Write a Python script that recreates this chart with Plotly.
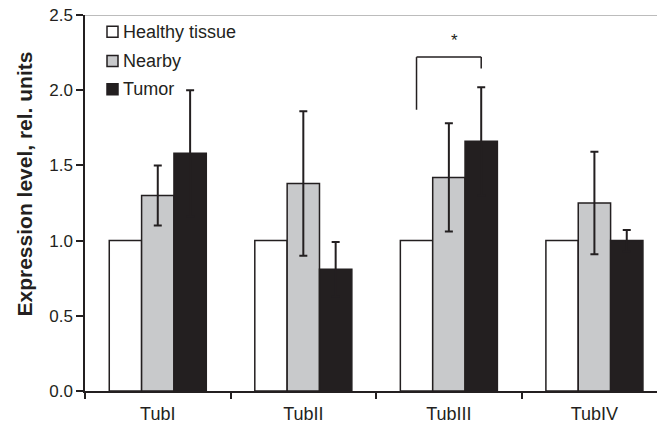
import plotly.graph_objects as go

categories = ["TubI", "TubII", "TubIII", "TubIV"]
healthy = [1.0, 1.0, 1.0, 1.0]
nearby = [1.30, 1.38, 1.42, 1.25]
nearby_err = [0.20, 0.48, 0.36, 0.34]
tumor = [1.58, 0.81, 1.66, 1.0]
tumor_err = [0.42, 0.18, 0.36, 0.07]
series_names = ["Healthy tissue", "Nearby", "Tumor"]
series_colors = ["white", "#c8c9cb", "#231f20"]

INK = "#231f20"
FONT = "Liberation Sans, Arial, sans-serif"

W, H = 657, 428
ML, MR, MT, MB = 85, 0, 15, 37
PW, PH = W - ML - MR, H - MT - MB


def px_x(p):
    return (p - ML) / PW


def px_y(p):
    return (H - MB - p) / PH


fig = go.Figure()
fig.add_trace(go.Bar(name=series_names[0], x=categories, y=healthy,
                     marker=dict(color=series_colors[0], line=dict(color=INK, width=1.5))))
fig.add_trace(go.Bar(name=series_names[1], x=categories, y=nearby,
                     marker=dict(color=series_colors[1], line=dict(color=INK, width=1.5)),
                     error_y=dict(type="data", array=nearby_err, color=INK, thickness=2, width=4)))
fig.add_trace(go.Bar(name=series_names[2], x=categories, y=tumor,
                     marker=dict(color=series_colors[2], line=dict(color=INK, width=1.5)),
                     error_y=dict(type="data", array=tumor_err, color=INK, thickness=2, width=4)))

# significance bracket between Healthy and Tumor for TubIII
bw = (1 - 1/3) / 3
cx = categories.index("TubIII")
xl, xr = cx - bw, cx + bw
line_style = dict(color=INK, width=1.5)
fig.add_shape(type="line", xref="x", yref="y", x0=xl, x1=xl, y0=1.87, y1=2.22, line=line_style)
fig.add_shape(type="line", xref="x", yref="y", x0=xl, x1=xr, y0=2.22, y1=2.22, line=line_style)
fig.add_shape(type="line", xref="x", yref="y", x0=xr, x1=xr, y0=2.145, y1=2.22, line=line_style)
fig.add_annotation(x=cx + 0.04, y=2.33, xref="x", yref="y", text="*", showarrow=False,
                   font=dict(size=17, color=INK, family=FONT))
# top border line
fig.add_shape(type="line", xref="paper", yref="y", x0=0, x1=1, y0=2.5, y1=2.5,
              line=dict(color="#a6a6a6", width=1.5))

# legend (drawn manually to match the compact swatch/text spacing)
rows = [31.7, 61, 89.3]
for name, col, yc in zip(series_names, series_colors, rows):
    fig.add_shape(type="rect", xref="paper", yref="paper",
                  x0=px_x(107), x1=px_x(118), y0=px_y(yc + 5.5), y1=px_y(yc - 5.5),
                  fillcolor=col, line=dict(color=INK, width=1.5))
    fig.add_annotation(xref="paper", yref="paper", x=px_x(121), y=px_y(yc),
                       xanchor="left", yanchor="middle", text=name, showarrow=False,
                       font=dict(size=18, color=INK, family=FONT))

# y axis title
fig.add_annotation(xref="paper", yref="paper", x=px_x(24), y=px_y(184.5),
                   xanchor="center", yanchor="middle", textangle=-90,
                   text="<b>Expression level, rel. units</b>", showarrow=False,
                   font=dict(size=21, color=INK, family=FONT))

fig.update_layout(
    width=W, height=H,
    margin=dict(l=ML, r=MR, t=MT, b=MB),
    paper_bgcolor="white", plot_bgcolor="white",
    barmode="group", bargap=1/3, bargroupgap=0,
    font=dict(family=FONT, color=INK, size=14),
    showlegend=False,
    xaxis=dict(type="category", range=[-0.5, 3.43], tickson="boundaries",
               ticks="outside", ticklen=6, tickwidth=1.5, tickcolor=INK,
               showline=True, linecolor=INK, linewidth=1.5, showgrid=False,
               ticklabelstandoff=6,
               tickfont=dict(size=18, color=INK, family=FONT)),
    yaxis=dict(range=[0, 2.5], dtick=0.5, tickformat=".1f",
               ticks="outside", ticklen=7, tickwidth=1.5, tickcolor=INK,
               showline=True, linecolor=INK, linewidth=1.5, showgrid=False,
               zeroline=False,
               tickfont=dict(size=17, color=INK, family=FONT)),
)

fig.write_html("out.html", config={"displayModeBar": False},
               post_script="document.body.style.margin='0';")
